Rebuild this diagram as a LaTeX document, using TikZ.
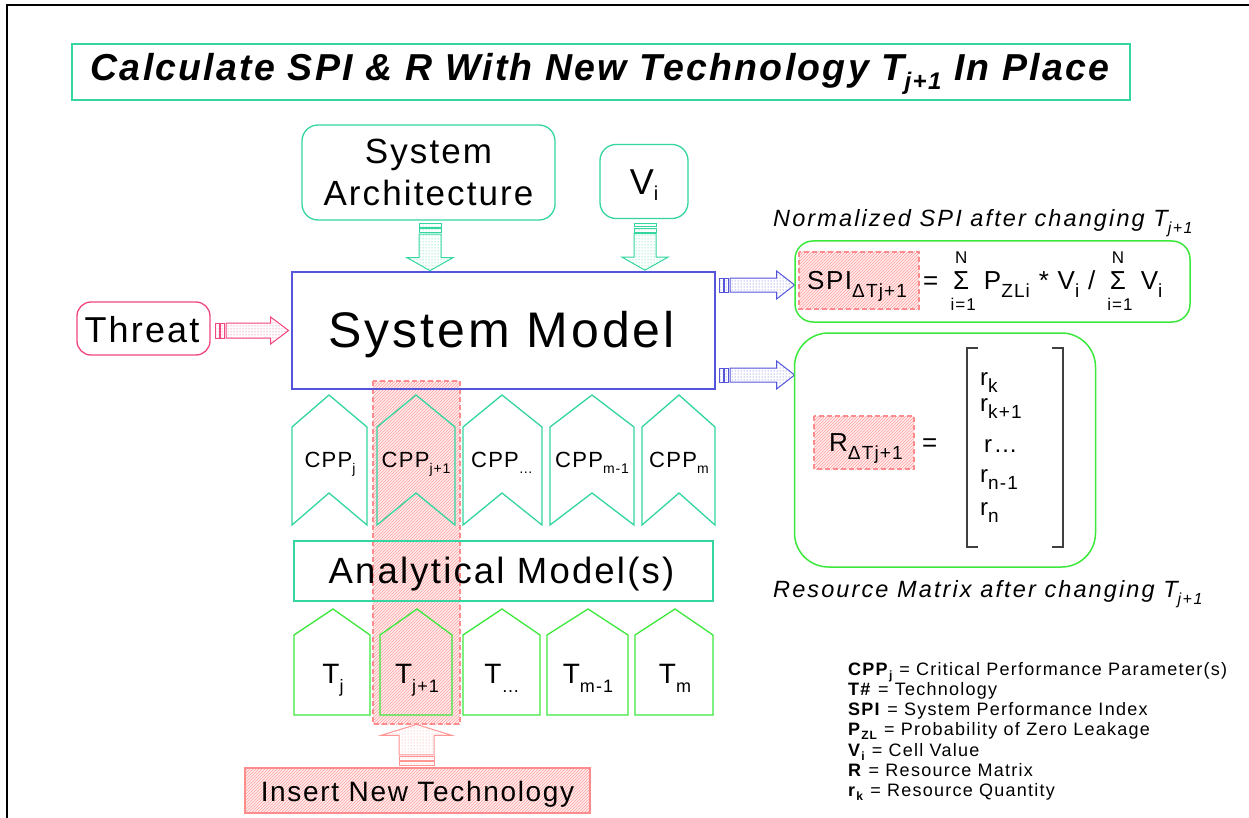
\documentclass[tikz,border=0pt]{standalone}
\usepackage{fontspec}
\setmainfont{Liberation Sans}[LetterSpace=6]
\newfontfamily\legfont{Liberation Sans}[LetterSpace=7]
\newfontfamily\itfont{Liberation Sans}[LetterSpace=9]
\usetikzlibrary{patterns,calc}
\definecolor{myteal}{RGB}{51,214,160}
\definecolor{mygrn}{RGB}{60,232,60}
\definecolor{myblu}{RGB}{85,85,220}
\definecolor{mypink}{RGB}{240,70,130}
\definecolor{pinkd}{RGB}{255,140,140}
\definecolor{pinkh}{RGB}{255,160,160}
\definecolor{pinkbg}{RGB}{255,238,238}
\definecolor{pinka}{RGB}{255,150,150}
\newcommand\fs[1]{\fontsize{#1}{#1}\selectfont}
\newcommand\sbs[3]{\raisebox{-#2pt}{\fs{#1}#3}}
\newcommand\lims[3]{\makebox[28pt]{\makebox[0pt]{\raisebox{26pt}{\fs{17}#1}}\makebox[0pt]{#2}\makebox[0pt]{\hspace*{4pt}\raisebox{-21pt}{\fs{17}#3}}}}
% block arrow: color, start, angle, length, shaft half, head half, head length
\newcommand\barrow[7]{%
 \begin{scope}[shift={#2},rotate=#3]
  \draw[#1, line width=1, pattern=dots, pattern color=#1] (0,-#5) rectangle (3.5,#5);
  \draw[#1, line width=1, pattern=dots, pattern color=#1] (5,-#5) rectangle (9,#5);
  \draw[#1, line width=1, pattern=dots, pattern color=#1] (10.5,-#5) -- (#4-#7,-#5) -- (#4-#7,-#6) -- (#4,0) -- (#4-#7,#6) -- (#4-#7,#5) -- (10.5,#5) -- cycle;
 \end{scope}}
\newcommand\cppshape[3]{\draw[myteal, line width=1.3] (#1,427) -- (#2,395) -- (#3,427) -- (#3,525) -- (#2,493) -- (#1,525) -- cycle;}
\newcommand\tshape[3]{\draw[mygrn, line width=1.3] (#1,635) -- (#2,609) -- (#3,635) -- (#3,715) -- (#1,715) -- cycle;}
\begin{document}
\begin{tikzpicture}[x=1pt,y=-1pt,
  lbl/.style={inner sep=0, anchor=base},
  lblw/.style={inner sep=0, anchor=base west},
  hatch/.style={draw=pinkd, dash pattern=on 5pt off 3pt, line width=1.2, preaction={fill=pinkbg}, pattern=north east lines, pattern color=pinkh},
  rbox/.style={draw=myteal, line width=1.3, rounded corners=16, inner sep=0}]
\useasboundingbox (0,0) rectangle (1249,818);
\fill[white] (0,0) rectangle (1249,818);
\draw[line width=2.5] (7,818) -- (7,5) -- (1249,5);

% title
\node[draw=myteal, line width=1.8, minimum width=1058, minimum height=56, inner sep=0] (titlebox) at (601,72) {};
\node[lbl, font=\fs{37.5}\bfseries\itshape] (title) at (600,81) {Calculate SPI \& R With New Technology T\sbs{24}{9}{j+1} In Place};

% inputs
\node[rbox, minimum width=253, minimum height=95] (sa) at (428.5,172.5) {};
\node[lbl, font=\fs{35}] (sa1) at (428.5,164) {System};
\node[lbl, font=\fs{35}] (sa2) at (428.5,206) {Architecture};
\node[rbox, minimum width=88, minimum height=74] (vi) at (644,181.5) {};
\node[lbl, font=\fs{36}] (vit) at (644,195) {V\sbs{20}{6}{i}};
\node[draw=mypink, line width=1.3, rounded corners=14, minimum width=133, minimum height=53, inner sep=0] (thr) at (143.5,328.5) {};
\node[lbl, font=\fs{36}] (thrt) at (142,342) {Threat};

% hatch column
\draw[hatch] (373,381) rectangle (460,724);
\coordinate (colbot) at (416.5,724);

% system model
\node[draw=myblu, line width=1.2, minimum width=423, minimum height=117, inner sep=0] (sm) at (503.5,330.5) {};
\node[lbl, font=\fs{50}] (smt) at (501.5,347) {System Model};

% arrows into system model
\barrow{myteal}{($(sa.south)+(1.5,3)$)}{-90}{47}{11}{23}{13}
\barrow{myteal}{($(vi.south)+(1,4)$)}{-90}{47}{11}{23}{13}
\barrow{mypink}{($(thr.east)+(5,2)$)}{0}{73}{7.5}{13.5}{18}
\barrow{myblu}{($(sm.east)+(4,-45.5)$)}{0}{75}{7}{14}{18}
\barrow{myblu}{($(sm.east)+(4,44.5)$)}{0}{75}{7}{14}{18}

% CPP chevrons
\cppshape{292}{329}{367}
\cppshape{377}{416}{455}
\cppshape{463}{502}{542}
\cppshape{550}{592}{634}
\cppshape{642}{679}{715}
\node[lbl, font=\fs{22}] (c1) at (330,467) {CPP\sbs{14}{6}{j}};
\node[lbl, font=\fs{22}] (c2) at (416,467) {CPP\sbs{14}{6}{j+1}};
\node[lbl, font=\fs{22}] (c3) at (502,467) {CPP\sbs{14}{6}{\dots}};
\node[lbl, font=\fs{22}] (c4) at (592,467) {CPP\sbs{14}{6}{m-1}};
\node[lbl, font=\fs{22}] (c5) at (679,467) {CPP\sbs{14}{6}{m}};

% analytical model
\node[draw=myteal, line width=1.3, minimum width=419, minimum height=60, inner sep=0] (am) at (503.5,571) {};
\node[lbl, font=\fs{36.5}] (amt) at (501.5,583) {Analytical Model(s)};

% technologies
\tshape{294}{333}{370}
\tshape{380}{417}{452}
\tshape{463}{502}{540}
\tshape{547}{588}{628}
\tshape{635}{675}{713}
\node[lbl, font=\fs{28}] (t1) at (333,683) {T\sbs{18}{9}{j}};
\node[lbl, font=\fs{28}] (t2) at (417,683) {T\sbs{18}{9}{j+1}};
\node[lbl, font=\fs{28}] (t3) at (502,683) {T\sbs{18}{9}{\dots}};
\node[lbl, font=\fs{28}] (t4) at (588,683) {T\sbs{18}{9}{m-1}};
\node[lbl, font=\fs{28}] (t5) at (675,683) {T\sbs{18}{9}{m}};

% insert new technology
\node[hatch, dash pattern=, minimum width=345, minimum height=45, inner sep=0] (ins) at (417.5,790.5) {};
\node[lbl, font=\fs{28}] (inst) at (417.5,801) {Insert New Technology};
\barrow{pinka}{($(ins.north)+(-1,-2)$)}{90}{41}{17.5}{35.5}{11}

% SPI box
\node[lblw, font=\itfont\fs{23.5}\itshape] (nsp) at (773,226) {Normalized SPI after changing T\sbs{16}{7}{j+1}};
\node[draw=mygrn, line width=1.5, rounded corners=18, minimum width=395, minimum height=81, inner sep=0] (spibox) at (992.5,281.5) {};
\draw[hatch] (799,252) rectangle (919,309);
\node[lblw, font=\fs{26}] (spi) at (807,289) {SPI\sbs{19}{8}{ΔTj+1}};
\node[lblw, font=\fs{26}] (frm) at (923,289) {= \lims{N}{Σ}{i=1} P\sbs{19}{8}{ZLi} * V\sbs{19}{8}{i} / \lims{N}{Σ}{i=1} V\sbs{19}{8}{i}};

% R box
\node[draw=mygrn, line width=1.5, rounded corners=34, minimum width=301, minimum height=234, inner sep=0] (rbx) at (945,450) {};
\draw[hatch] (814,416) rectangle (914,469);
\node[lblw, font=\fs{26}] (rt) at (829,451) {R\sbs{19}{8}{ΔTj+1}};
\node[lblw, font=\fs{26}] (req) at (922,451) {=};
\draw[line width=1.2, black!75] (978,348) -- (967,348) -- (967,547) -- (978,547);
\draw[line width=1.2, black!75] (1052,348) -- (1063,348) -- (1063,547) -- (1052,547);
\node[lblw, font=\fs{24}] (r1) at (980,385) {r\sbs{19}{7}{k}};
\node[lblw, font=\fs{24}] (r2) at (980,411) {r\sbs{19}{7}{k+1}};
\node[lblw, font=\fs{24}] (r3) at (984,452) {r\dots};
\node[lblw, font=\fs{24}] (r4) at (980,482) {r\sbs{19}{7}{n-1}};
\node[lblw, font=\fs{24}] (r5) at (980,515) {r\sbs{19}{7}{n}};
\node[lblw, font=\itfont\fs{23.5}\itshape] (rmt) at (773,597) {Resource Matrix after changing T\sbs{16}{7}{j+1}};

% legend
\begin{scope}[every node/.style={lblw, font=\legfont\fs{18}}]
\node (l1) at (848,675) {\textbf{CPP}\sbs{12}{4}{\textbf{j}} = Critical Performance Parameter(s)};
\node (l2) at (848,695.3) {\textbf{T\#} = Technology};
\node (l3) at (848,715.6) {\textbf{SPI} = System Performance Index};
\node (l4) at (848,735.9) {\textbf{P}\sbs{12}{4}{\textbf{ZL}} = Probability of Zero Leakage};
\node (l5) at (848,756.2) {\textbf{V}\sbs{12}{4}{\textbf{i}} = Cell Value};
\node (l6) at (848,776.5) {\textbf{R} = Resource Matrix};
\node (l7) at (848,796.8) {\textbf{r}\sbs{12}{4}{\textbf{k}} = Resource Quantity};
\end{scope}
\end{tikzpicture}
\end{document}
